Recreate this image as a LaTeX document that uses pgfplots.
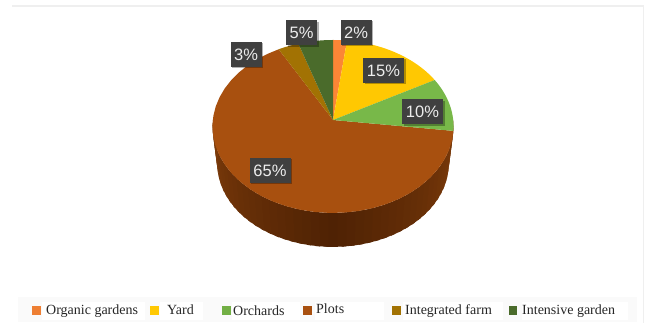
\documentclass[border=0pt]{standalone}
\usepackage{pgfplots}
\pgfplotsset{compat=1.18}
\usepackage{fontspec}
\setmainfont{Liberation Serif}
\setsansfont{Liberation Sans}
\usetikzlibrary{shadows}
\definecolor{cOrganic}{HTML}{FB8636}
\definecolor{cYard}{HTML}{FFC802}
\definecolor{cOrchard}{HTML}{78B849}
\definecolor{cPlots}{HTML}{A8500F}
\definecolor{cFarm}{HTML}{A27203}
\definecolor{cIntensive}{HTML}{4A6B2B}
\definecolor{sideLight}{HTML}{7C3B0A}
\definecolor{sideDark}{HTML}{4F2204}
\definecolor{tagFill}{HTML}{404040}
\definecolor{rule}{HTML}{EFEFEF}
\definecolor{band}{HTML}{FAFAFA}

% Projected rim of the disc: angle #1 clockwise from the top, scale #2, apex height #3.
\newcommand\rimpoint[3]{%
  \pgfmathsetmacro\rimw{1+0.075*cos(#1)}%
  \pgfmathsetmacro\rimx{333+#2*120.2*sin(#1)/\rimw}%
  \pgfmathsetmacro\rimy{#3-#2*86*cos(#1)/\rimw}%
}
% One slice of the disc, built from its share in percent.
\gdef\total{0}
\newcommand\slice[2]{%
  \pgfmathsetmacro\angA{\total*3.6}%
  \pgfmathsetmacro\angB{(\total+#2)*3.6}%
  \pgfmathsetmacro\newtotal{\total+#2}%
  \xdef\total{\newtotal}%
  \gdef\ptsbuf{(333,120) }%
  \foreach \i in {0,...,36}{%
    \pgfmathsetmacro\ang{\angA+(\angB-\angA)*\i/36}%
    \rimpoint{\ang}{1}{120}%
    \xdef\ptsbuf{\ptsbuf (\rimx,\rimy) }%
  }%
  \expandafter\xdef\csname pts#1\endcsname{\ptsbuf}%
}
\newcommand\plotslice[2]{%
  \edef\tmp{\noexpand\addplot[fill=#2,draw=none] coordinates {\csname pts#1\endcsname} --cycle;}%
  \tmp
}
\slice{A}{2}
\slice{B}{15}
\slice{C}{10}
\slice{D}{65}
\slice{E}{3}
\slice{F}{5}

\tikzset{tag/.style={fill=tagFill,text=white!93!black,font=\sffamily\fontsize{16.5}{16.5}\selectfont,
    minimum height=25pt,inner xsep=0pt,inner ysep=0pt,
    drop shadow={shadow xshift=1.5pt,shadow yshift=-1.5pt,opacity=0.3,fill=black}},
  key/.style={anchor=base west,inner sep=0pt,text=black!85,font=\fontsize{14}{14}\selectfont}}

\begin{document}
\begin{tikzpicture}
\begin{axis}[
  scale only axis,width=645pt,height=323pt,
  xmin=0,xmax=645,ymin=0,ymax=323,y dir=reverse,
  hide axis,clip=false]
  % page, frame rules and legend band
  \fill[white] (axis cs:0,0) rectangle (axis cs:645,323);
  \fill[rule] (axis cs:12,5.5) rectangle (axis cs:644,7);
  \fill[rule] (axis cs:643,6) rectangle (axis cs:644,323);
  \fill[band] (axis cs:18,297) rectangle (axis cs:637,322);
  \fill[white] (axis cs:42,302) rectangle (axis cs:145,320);
  \fill[white] (axis cs:160,302) rectangle (axis cs:203,320);
  \fill[white] (axis cs:232,302) rectangle (axis cs:300,320);
  \fill[white] (axis cs:315,302) rectangle (axis cs:384,320);
  \fill[white] (axis cs:403,302) rectangle (axis cs:503,320);
  \fill[white] (axis cs:522,302) rectangle (axis cs:628,320);
  % side wall of the disc: overlapping strips, painted in order so no seams show
  \foreach \s in {0,...,44}{
    \pgfmathsetmacro\tA{90+4*\s}
    \pgfmathsetmacro\tB{96+4*\s}
    \pgfmathsetmacro\shade{min(100,abs(\tA+2-180)/85*100)}
    \rimpoint{\tA}{1}{120}\let\xa\rimx\let\ya\rimy
    \rimpoint{\tB}{1}{120}\let\xb\rimx\let\yb\rimy
    \rimpoint{\tB}{0.96}{157.7}\let\xc\rimx\let\yc\rimy
    \rimpoint{\tA}{0.96}{157.7}\let\xd\rimx\let\yd\rimy
    \edef\tmp{\noexpand\addplot[fill={sideLight!\shade!sideDark},draw=none]
      coordinates {(\xa,\ya) (\xb,\yb) (\xc,\yc) (\xd,\yd)} --cycle;}
    \tmp
  }
  % top face
  \plotslice{D}{cPlots}
  \plotslice{A}{cOrganic}
  \plotslice{B}{cYard}
  \plotslice{C}{cOrchard}
  \plotslice{E}{cFarm}
  \plotslice{F}{cIntensive}
  % value tags
  \node[tag,minimum width=31pt] at (axis cs:356,32.5) {2\%};
  \node[tag,minimum width=41pt] at (axis cs:383.5,70.5) {15\%};
  \node[tag,minimum width=41pt] at (axis cs:422.5,112) {10\%};
  \node[tag,minimum width=41pt] at (axis cs:270,170.5) {65\%};
  \node[tag,minimum width=31pt] at (axis cs:246,54.5) {3\%};
  \node[tag,minimum width=31pt] at (axis cs:301.5,33) {5\%};
  % legend
  \fill[cOrganic!95!black]   (axis cs:32,306) rectangle (axis cs:40.5,314.5);
  \fill[cYard]               (axis cs:150,306) rectangle (axis cs:158.5,314.5);
  \fill[cOrchard!95!black]   (axis cs:222,306) rectangle (axis cs:230.5,314.5);
  \fill[cPlots]              (axis cs:303,306) rectangle (axis cs:311.5,314.5);
  \fill[cFarm]               (axis cs:392,306) rectangle (axis cs:400.5,314.5);
  \fill[cIntensive]          (axis cs:508.5,306) rectangle (axis cs:517,314.5);
  \node[key] at (axis cs:46,314.5) {Organic gardens};
  \node[key] at (axis cs:167,314.5) {Yard};
  \node[key] at (axis cs:233,315.5) {Orchards};
  \node[key] at (axis cs:316,313) {Plots};
  \node[key] at (axis cs:405,314.5) {Integrated farm};
  \node[key] at (axis cs:522,314) {Intensive garden};
\end{axis}
\end{tikzpicture}
\end{document}
